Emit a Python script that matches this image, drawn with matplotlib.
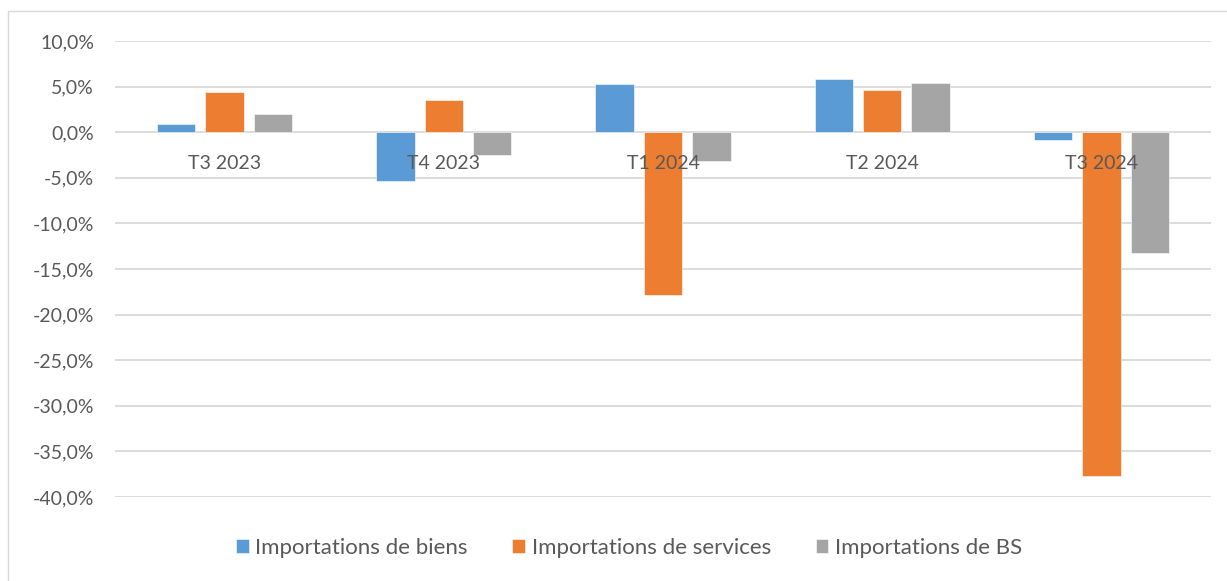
import matplotlib
matplotlib.use("Agg")
import matplotlib.pyplot as plt
from matplotlib.patches import Rectangle
import numpy as np

categories = ["T3 2023", "T4 2023", "T1 2024", "T2 2024", "T3 2024"]
biens = [0.9, -5.3, 5.3, 5.8, -0.9]
services = [4.4, 3.5, -17.9, 4.6, -37.7]
bs = [2.0, -2.5, -3.2, 5.4, -13.3]
series_names = ["Importations de biens", "Importations de services", "Importations de BS"]
colors = ["#5B9BD5", "#ED7D31", "#A5A5A5"]
yticks = [10, 5, 0, -5, -10, -15, -20, -25, -30, -35, -40]

plt.rcParams['font.family'] = ['Lato', 'DejaVu Sans']
FS = 14
TXT = '#595959'

fig = plt.figure(figsize=(12.27, 5.81), dpi=100)
ax = fig.add_axes([115/1227, 1-497/581, (1211-115)/1227, (497-41)/581])

x = np.arange(len(categories))
width = 0.175
offset = 0.221
for i, (vals, name, c) in enumerate(zip([biens, services, bs], series_names, colors)):
    ax.bar(x + (i-1)*offset, vals, width, color=c, label=name, zorder=3,
           edgecolor='white', linewidth=0.4)

ax.set_xlim(-0.5, len(categories)-0.5)
ax.set_ylim(-40, 10)
ax.set_yticks(yticks)
ax.set_yticklabels([f"{v:.1f}%".replace('.', ',') for v in yticks])
ax.yaxis.grid(True, color='#D9D9D9', linewidth=1.3, zorder=0)
ax.set_axisbelow(True)
for s in ['top', 'right', 'left', 'bottom']:
    ax.spines[s].set_visible(False)
ax.set_xticks([])
for xi, lab in zip(x, categories):
    ax.annotate(lab, xy=(xi, 0), xytext=(0, -31), textcoords='offset pixels',
                ha='center', va='center', fontsize=FS, color=TXT, zorder=5)
ax.tick_params(axis='y', length=0, pad=15, labelsize=FS, labelcolor=TXT)

leg = fig.legend(loc='center', bbox_to_anchor=(629/1227, 1-548/581), ncol=3, frameon=False,
                 fontsize=16, handlelength=0.58, handleheight=0.58, handletextpad=0.3,
                 columnspacing=2.0)
for t in leg.get_texts():
    t.set_color(TXT)

fig.patches.append(Rectangle((8/1227, -0.1), 1.2, 1-11/581+0.1, transform=fig.transFigure,
                             fill=False, edgecolor='#D9D9D9', linewidth=1.0, zorder=0))

fig.savefig("out.png", dpi=100)
